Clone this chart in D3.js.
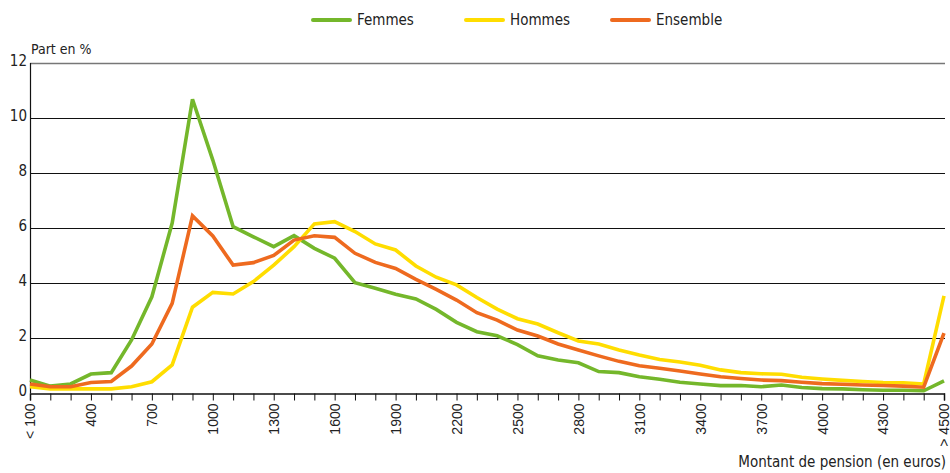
<!DOCTYPE html>
<html>
<head>
<meta charset="utf-8">
<script src="https://cdn.jsdelivr.net/npm/d3@7"></script>
<style>
  body { margin: 0; background: #fff; }
  .cond { font-family: "Liberation Sans Narrow", "DejaVu Sans Condensed", "Roboto", sans-serif; }
</style>
</head>
<body>
<script>
const width = 950;
const height = 473;

// Categories: tranches de 100 euros
const categories = ["< 100"];
for (let v = 200; v <= 4500; v += 100) categories.push(String(v));
categories.push("> 4500");

const tickLabels = ["< 100", "400", "700", "1000", "1300", "1600", "1900", "2200", "2500",
  "2800", "3100", "3400", "3700", "4000", "4300", "> 4500"];

const femmes = [0.47, 0.25, 0.33, 0.69, 0.74, 1.93, 3.5, 6.18, 10.68, 8.47, 6.05, 5.68, 5.32,
  5.72, 5.26, 4.9, 4.01, 3.81, 3.59, 3.42, 3.04, 2.57, 2.23, 2.08, 1.76, 1.35, 1.2, 1.1,
  0.78, 0.74, 0.59, 0.5, 0.39, 0.33, 0.27, 0.27, 0.23, 0.29, 0.2, 0.16, 0.15, 0.12, 0.1,
  0.1, 0.08, 0.44];

const hommes = [0.23, 0.15, 0.15, 0.15, 0.15, 0.23, 0.41, 1.02, 3.12, 3.66, 3.6, 4.05, 4.65,
  5.32, 6.15, 6.23, 5.87, 5.42, 5.2, 4.62, 4.21, 3.93, 3.47, 3.05, 2.7, 2.51, 2.19, 1.89,
  1.78, 1.56, 1.38, 1.22, 1.13, 1.01, 0.84, 0.74, 0.7, 0.68, 0.57, 0.51, 0.46, 0.42, 0.38,
  0.37, 0.33, 3.53];

const ensemble = [0.33, 0.23, 0.23, 0.38, 0.42, 0.98, 1.78, 3.26, 6.44, 5.71, 4.65, 4.74, 5.0,
  5.56, 5.72, 5.66, 5.08, 4.75, 4.53, 4.13, 3.77, 3.38, 2.92, 2.65, 2.29, 2.07, 1.78, 1.56,
  1.35, 1.15, 0.99, 0.9, 0.8, 0.69, 0.59, 0.53, 0.47, 0.45, 0.39, 0.34, 0.32, 0.29, 0.27,
  0.25, 0.21, 2.18];

const yTicks = [0, 2, 4, 6, 8, 10, 12];

const series = [
  { name: "Femmes", values: femmes, color: "#74b72b" },
  { name: "Hommes", values: hommes, color: "#ffdd00" },
  { name: "Ensemble", values: ensemble, color: "#ee6a1f" }
];

const margin = { left: 30, right: 6, top: 63, bottom: 80 };

const svg = d3.select("body").append("svg")
    .attr("width", width)
    .attr("height", height);

const x = d3.scalePoint()
    .domain(categories)
    .range([margin.left, width - margin.right]);

const y = d3.scaleLinear()
    .domain([0, 12])
    .range([height - margin.bottom, margin.top]);

// Gridlines
svg.append("g")
    .selectAll("line")
    .data(yTicks.filter(d => d > 0))
    .join("line")
    .attr("x1", margin.left)
    .attr("x2", width - margin.right + 1)
    .attr("y1", d => Math.round(y(d)) + 0.5)
    .attr("y2", d => Math.round(y(d)) + 0.5)
    .attr("stroke", d => d === 12 ? "#777" : "#111")
    .attr("stroke-width", d => d === 12 ? 1.6 : 1);

// Y labels
svg.append("g")
    .selectAll("text")
    .data(yTicks)
    .join("text")
    .attr("class", "cond")
    .attr("x", margin.left - 3)
    .attr("y", d => y(d) - 2)
    .attr("text-anchor", "end")
    .attr("dominant-baseline", "middle")
    .attr("font-size", 15)
    .attr("fill", "#222")
    .text(d => d);

svg.append("text")
    .attr("class", "cond")
    .attr("x", margin.left + 1)
    .attr("y", 54)
    .attr("font-size", 14)
    .attr("fill", "#222")
    .text("Part en %");

// Y axis line
svg.append("line")
    .attr("x1", margin.left + 0.5)
    .attr("x2", margin.left + 0.5)
    .attr("y1", y(12))
    .attr("y2", y(0))
    .attr("stroke", "#111")
    .attr("stroke-width", 1.2);

// X axis
const xAxis = d3.axisBottom(x)
    .tickSize(7)
    .tickFormat(d => tickLabels.includes(d) ? d : "");

const gx = svg.append("g")
    .attr("transform", `translate(0,${Math.round(y(0)) + 0.5})`)
    .call(xAxis);

gx.select(".domain").attr("stroke", "#111").attr("stroke-width", 1.5);
gx.selectAll(".tick line").attr("stroke", "#111");
gx.selectAll(".tick text")
    .attr("font-family", "'Liberation Sans', Arial, sans-serif")
    .attr("font-size", 14)
    .attr("fill", "#222")
    .attr("transform", "rotate(-90)")
    .attr("text-anchor", "end")
    .attr("x", -10)
    .attr("y", 0)
    .attr("dy", "0.35em");

svg.append("text")
    .attr("class", "cond")
    .attr("x", width - 4)
    .attr("y", 467)
    .attr("text-anchor", "end")
    .attr("font-size", 15)
    .attr("fill", "#222")
    .text("Montant de pension (en euros)");

// Lines
const line = d3.line()
    .x((d, i) => x(categories[i]))
    .y(d => y(d));

svg.append("g")
    .selectAll("path")
    .data(series)
    .join("path")
    .attr("fill", "none")
    .attr("stroke", d => d.color)
    .attr("stroke-width", 3.6)
    .attr("stroke-linejoin", "miter")
    .attr("d", d => line(d.values));

// Legend
const legendX = [313, 466, 612];
const legend = svg.append("g")
    .selectAll("g")
    .data(series)
    .join("g")
    .attr("transform", (d, i) => `translate(${legendX[i]},20)`);

legend.append("line")
    .attr("x1", 0)
    .attr("x2", 37)
    .attr("stroke", d => d.color)
    .attr("stroke-width", 4)
    .attr("stroke-linecap", "round");

legend.append("text")
    .attr("class", "cond")
    .attr("x", 44)
    .attr("y", 0)
    .attr("dominant-baseline", "middle")
    .attr("font-size", 15)
    .attr("fill", "#222")
    .text(d => d.name);
</script>
</body>
</html>
